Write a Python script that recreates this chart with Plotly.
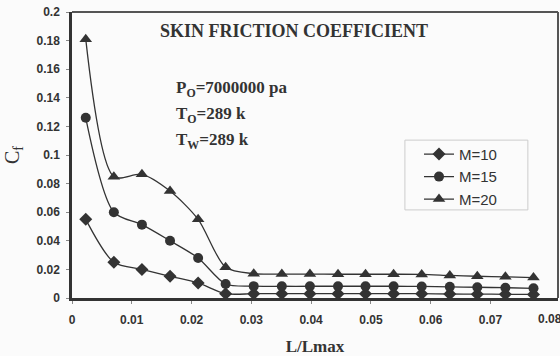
import plotly.graph_objects as go

# Distance along the wall, L/Lmax
x_pos = [0.0023, 0.0070, 0.0117, 0.0164, 0.0211, 0.0257, 0.0304, 0.0351, 0.0398,
         0.0445, 0.0491, 0.0538, 0.0585, 0.0632, 0.0678, 0.0725, 0.0772]

# Skin friction coefficient for each Mach number
cf_m10 = [0.055, 0.025, 0.020, 0.0152, 0.0105, 0.0030, 0.0030, 0.0030, 0.0030,
          0.0030, 0.0030, 0.0030, 0.0030, 0.0028, 0.0027, 0.0026, 0.0025]
cf_m15 = [0.126, 0.060, 0.0513, 0.040, 0.028, 0.0098, 0.0083, 0.0082, 0.0082,
          0.0082, 0.0082, 0.0082, 0.0081, 0.0078, 0.0075, 0.0072, 0.0068]
cf_m20 = [0.181, 0.0848, 0.0865, 0.0748, 0.055, 0.0215, 0.0170, 0.0167, 0.0167,
          0.0166, 0.0166, 0.0166, 0.0165, 0.0158, 0.0152, 0.0148, 0.0143]

series_names = ["M=10", "M=15", "M=20"]
x_ticks = [0, 0.01, 0.02, 0.03, 0.04, 0.05, 0.06, 0.07]
x_tick_text = ["0", "0.01", "0.02", "0.03", "0.04", "0.05", "0.06", "0.07"]
x_last_tick = 0.08
x_last_text = "0.08"
y_ticks = [0, 0.02, 0.04, 0.06, 0.08, 0.1, 0.12, 0.14, 0.16, 0.18, 0.2]
y_tick_text = ["0", "0.02", "0.04", "0.06", "0.08", "0.1", "0.12", "0.14", "0.16", "0.18", "0.2"]

ink = "#333333"
serif = "Liberation Serif, Times New Roman, serif"
sans = "Liberation Sans, Arial, sans-serif"

fig = go.Figure()
for name, ys, sym, size in [
    (series_names[0], cf_m10, "diamond", 10),
    (series_names[1], cf_m15, "circle", 10),
    (series_names[2], cf_m20, "triangle-up", 11),
]:
    fig.add_trace(go.Scatter(
        x=x_pos, y=ys, name=name, mode="lines+markers",
        line=dict(color=ink, width=1.3, shape="spline", smoothing=0.8),
        marker=dict(symbol=sym, size=size, color=ink),
    ))

fig.update_layout(
    width=560, height=356,
    margin=dict(l=72, r=2, t=12, b=58),
    paper_bgcolor="#fbfbfb", plot_bgcolor="#fbfbfb",
    font=dict(family=sans, color=ink),
    showlegend=True,
    legend=dict(
        x=0.714, y=0.56, xanchor="left", yanchor="top",
        bgcolor="rgba(0,0,0,0)", borderwidth=0,
        font=dict(family=sans, size=15, color=ink),
        itemwidth=30, tracegroupgap=0,
    ),
)

fig.update_xaxes(
    range=[0, 0.0813], tickvals=x_ticks, ticktext=x_tick_text,
    showgrid=False, zeroline=False,
    showline=True, linecolor=ink, linewidth=2.5,
    ticks="outside", ticklen=3, tickcolor="#888888", tickwidth=1,
    ticklabelstandoff=6,
    tickfont=dict(family=sans, size=12, color=ink, weight="bold"),
    title=dict(text="<b>L/Lmax</b>", font=dict(family=serif, size=17, color=ink), standoff=15),
)
fig.update_yaxes(
    range=[0, 0.2], tickvals=y_ticks, ticktext=y_tick_text,
    showgrid=False, zeroline=False,
    showline=True, linecolor=ink, linewidth=2.5,
    ticks="outside", ticklen=3, tickcolor="#888888", tickwidth=1,
    ticklabelstandoff=4,
    tickfont=dict(family=sans, size=12, color=ink, weight="bold"),
    title=dict(text="C<sub>f</sub>", font=dict(family=serif, size=20, color=ink), standoff=12),
)

# The last x tick label sits at the right edge of the figure
fig.add_annotation(x=x_last_tick, y=0, xref="x", yref="paper", yshift=-21,
                   xanchor="center", yanchor="middle", showarrow=False,
                   text=x_last_text,
                   font=dict(family=sans, size=12, color=ink, weight="bold"))

# Lighter frame on the top and right sides
fig.add_shape(type="line", xref="paper", yref="paper", x0=0, x1=1, y0=1, y1=1,
              line=dict(color="#555555", width=2))
fig.add_shape(type="line", xref="paper", yref="paper", x0=1, x1=1, y0=0, y1=1,
              line=dict(color="#555555", width=2))

# Legend box
fig.add_shape(type="rect", xref="paper", yref="paper",
              x0=0.685, x1=0.938, y0=0.308, y1=0.552,
              line=dict(color="#cccccc", width=1))

# Chart heading and flow conditions
fig.add_annotation(x=0.176, y=0.935, xref="paper", yref="paper", xanchor="left", yanchor="middle",
                   text="<b>SKIN FRICTION COEFFICIENT</b>", showarrow=False,
                   font=dict(family=serif, size=18, color=ink))
cond_lines = ["P<sub>O</sub>=7000000 pa", "T<sub>O</sub>=289 k", "T<sub>W</sub>=289 k"]
for i, txt in enumerate(cond_lines):
    fig.add_annotation(x=0.21, y=0.732 - i * 0.092, xref="paper", yref="paper",
                       xanchor="left", yanchor="middle",
                       text="<b>" + txt + "</b>", showarrow=False,
                       font=dict(family=serif, size=17, color=ink))

fig.write_html("out.html")
